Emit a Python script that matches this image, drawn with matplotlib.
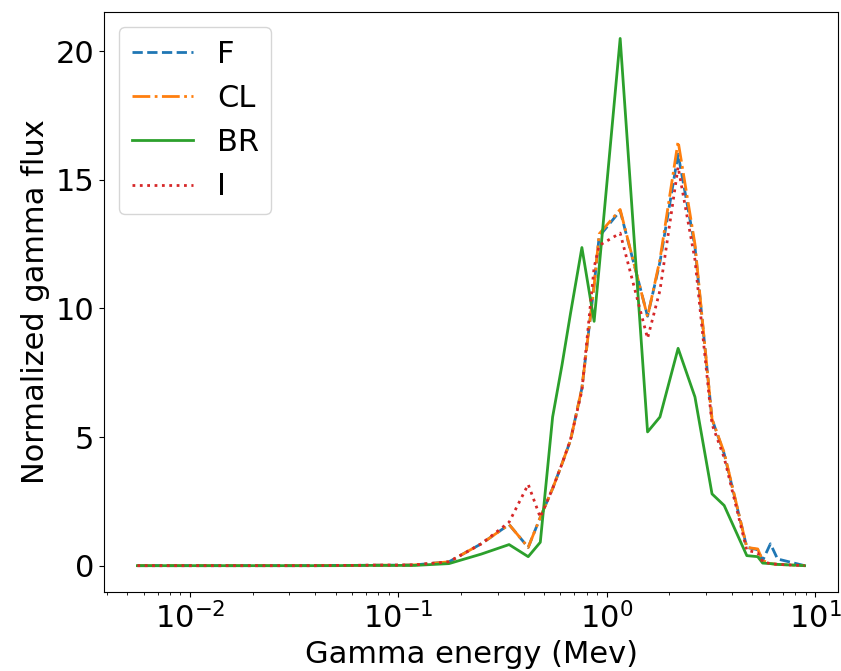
import numpy as np
import matplotlib
matplotlib.use("Agg")
import matplotlib.pyplot as plt

# energia (MeV) dos pontos
energia = [0.0056, 0.0075, 0.01, 0.015, 0.02, 0.03, 0.04, 0.05, 0.06, 0.08,
           0.1, 0.12, 0.175, 0.25, 0.34, 0.42, 0.48, 0.55, 0.61, 0.67,
           0.76, 0.87, 0.92, 1.16, 1.57, 1.8, 2.2, 2.65, 3.2, 3.66,
           4.7, 5.3, 5.6, 6.1, 6.6, 8.9]

fluxo_F = [0, 0, 0, 0, 0, 0, 0, 0.01, 0.01, 0.02,
           0.02, 0.03, 0.15, 0.85, 1.6, 0.71, 1.88, 3.0, 3.96, 4.87,
           6.9, 10.9, 12.8, 13.8, 9.7, 11.8, 16.0, 12.4, 5.7, 4.35,
           0.71, 0.62, 0.2, 0.85, 0.26, 0.0]

fluxo_CL = [0, 0, 0, 0, 0, 0, 0, 0.01, 0.01, 0.02,
            0.02, 0.03, 0.15, 0.85, 1.6, 0.71, 1.88, 3.0, 3.96, 4.87,
            6.9, 10.9, 12.9, 13.85, 9.68, 11.9, 16.5, 12.5, 5.7, 4.4,
            0.71, 0.65, 0.2, 0.08, 0.05, 0.0]

fluxo_BR = [0, 0, 0, 0, 0, 0, 0, 0, 0.01, 0.01,
            0.01, 0.01, 0.08, 0.45, 0.82, 0.35, 0.91, 5.78, 7.8, 9.8,
            12.37, 9.5, 11.6, 20.5, 5.2, 5.78, 8.45, 6.56, 2.79, 2.34,
            0.39, 0.35, 0.1, 0.08, 0.05, 0.0]

fluxo_I = [0, 0, 0, 0, 0, 0, 0, 0.01, 0.01, 0.02,
           0.02, 0.03, 0.15, 0.85, 1.69, 3.16, 1.88, 3.0, 3.96, 4.9,
           6.8, 11.6, 12.45, 12.93, 8.84, 10.7, 15.5, 11.9, 5.5, 4.2,
           0.6, 0.5, 0.15, 0.08, 0.05, 0.0]

fig = plt.figure(figsize=(8.41, 6.71), dpi=100)
ax = fig.add_axes([0.1237, 0.1177, 0.8727, 0.8643])

ax.plot(energia, fluxo_F, '--', color='C0', lw=2, label='F')
ax.plot(energia, fluxo_CL, '-.', color='C1', lw=2, label='CL')
ax.plot(energia, fluxo_BR, '-', color='C2', lw=2, label='BR')
ax.plot(energia, fluxo_I, ':', color='C3', lw=2, label='I')

ax.set_xscale('log')
ax.set_xlabel('Gamma energy (Mev)', fontsize=22)
ax.set_ylabel('Normalized gamma flux', fontsize=22)
ax.tick_params(labelsize=22)
ax.set_yticks([0, 5, 10, 15, 20])
ax.legend(loc='upper left', fontsize=22)

fig.savefig('out.png', dpi=100)
